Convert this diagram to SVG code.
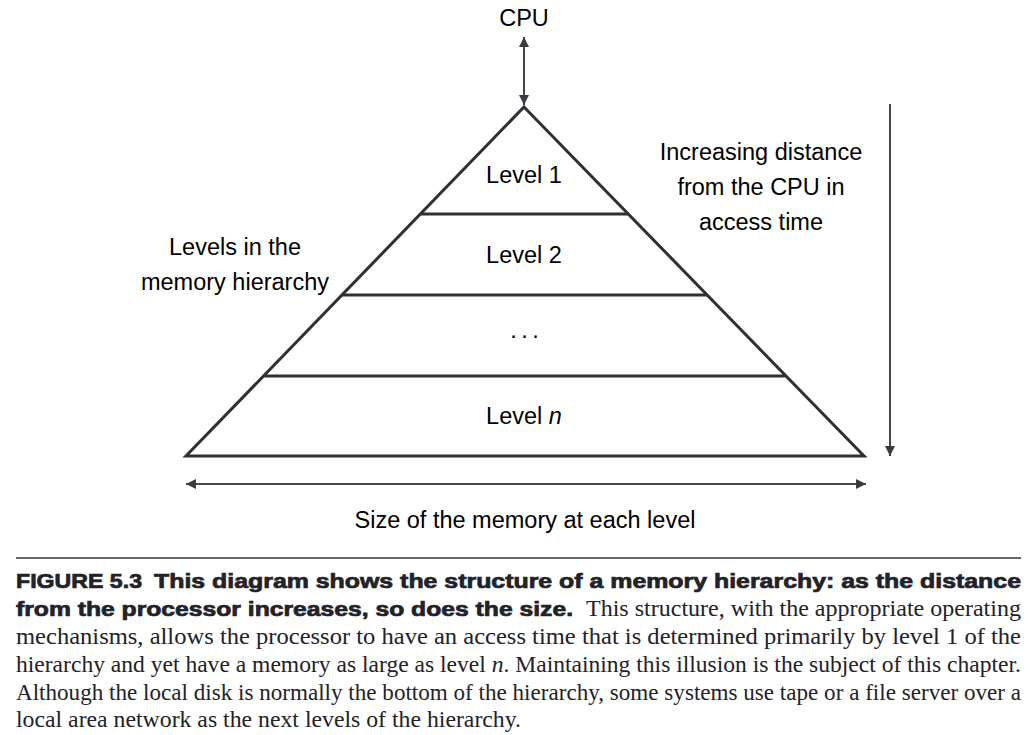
<svg xmlns="http://www.w3.org/2000/svg" width="1030" height="735" viewBox="0 0 1030 735">
<defs>
<style>
.lbl{font-family:"Liberation Sans",Arial,sans-serif;font-size:23.5px;fill:#000;text-anchor:middle}
.tri{fill:#fff;stroke:#2f2f35;stroke-width:3;stroke-linejoin:miter}
.div{stroke:#2f2f35;stroke-width:3}
.arr{stroke:#45454c;stroke-width:2;fill:none}
.cb{font-family:"Liberation Sans",Arial,sans-serif;font-weight:900;font-size:20px;fill:#222228;stroke:#222228;stroke-width:0.7}
.cs{font-family:"Liberation Serif","Times New Roman",serif;font-size:23px;fill:#222228}
</style>
<marker id="ah" viewBox="0 0 10 10" refX="10" refY="5" markerWidth="5" markerHeight="5" markerUnits="strokeWidth" orient="auto-start-reverse">
<path d="M0,0 L10,5 L0,10 z" fill="#3a3a40"/>
</marker>
</defs>
<rect width="1030" height="735" fill="#fff"/>
<g id="cpu"><text class="lbl" x="524" y="26">CPU</text></g>
<g id="pyramid">
<polygon class="tri" points="524,107 864,456 186,456"/>
<line class="div" x1="420" y1="214" x2="629" y2="214"/>
<line class="div" x1="341" y1="295" x2="707" y2="295"/>
<line class="div" x1="263" y1="376" x2="785" y2="376"/>
</g>
<g id="level1"><text class="lbl" x="524" y="183">Level 1</text></g>
<g id="level2"><text class="lbl" x="524" y="263">Level 2</text></g>
<g id="levelDots"><text class="lbl" x="524" y="338" letter-spacing="-1">. . .</text></g>
<g id="levelN"><text class="lbl" x="524" y="424">Level <tspan font-style="italic">n</tspan></text></g>
<g id="leftLabel">
<text class="lbl" x="235" y="255">Levels in the</text>
<text class="lbl" x="235" y="290">memory hierarchy</text>
</g>
<g id="rightLabel">
<text class="lbl" x="761" y="160">Increasing distance</text>
<text class="lbl" x="761" y="195">from the CPU in</text>
<text class="lbl" x="761" y="230">access time</text>
</g>
<g id="bottomLabel"><text class="lbl" x="525" y="528">Size of the memory at each level</text></g>
<g id="connectors">
<line class="arr" x1="524" y1="37" x2="524" y2="105" marker-start="url(#ah)" marker-end="url(#ah)"/>
<line class="arr" x1="890" y1="104" x2="890" y2="456" marker-end="url(#ah)"/>
<line class="arr" x1="186" y1="484" x2="866" y2="484" marker-start="url(#ah)" marker-end="url(#ah)"/>
</g>
<g id="caption">
<line x1="16" y1="558" x2="1021" y2="558" stroke="#333" stroke-width="1.5"/>
<text class="cb" x="16" y="588" textLength="126" lengthAdjust="spacingAndGlyphs">FIGURE 5.3</text>
<text class="cb" x="154" y="588" textLength="867" lengthAdjust="spacingAndGlyphs">This diagram shows the structure of a memory hierarchy: as the distance</text>
<text class="cb" x="16" y="616" textLength="557" lengthAdjust="spacingAndGlyphs">from the processor increases, so does the size.</text>
<text class="cs" x="586" y="616" textLength="435" lengthAdjust="spacingAndGlyphs">This structure, with the appropriate operating</text>
<text class="cs" x="16" y="644" textLength="1005" lengthAdjust="spacingAndGlyphs">mechanisms, allows the processor to have an access time that is determined primarily by level 1 of the</text>
<text class="cs" x="16" y="672" textLength="1005" lengthAdjust="spacingAndGlyphs">hierarchy and yet have a memory as large as level <tspan font-style="italic">n</tspan>. Maintaining this illusion is the subject of this chapter.</text>
<text class="cs" x="16" y="700" textLength="1005" lengthAdjust="spacingAndGlyphs">Although the local disk is normally the bottom of the hierarchy, some systems use tape or a file server over a</text>
<text class="cs" x="16" y="727" textLength="505" lengthAdjust="spacingAndGlyphs">local area network as the next levels of the hierarchy.</text>
</g>
</svg>
